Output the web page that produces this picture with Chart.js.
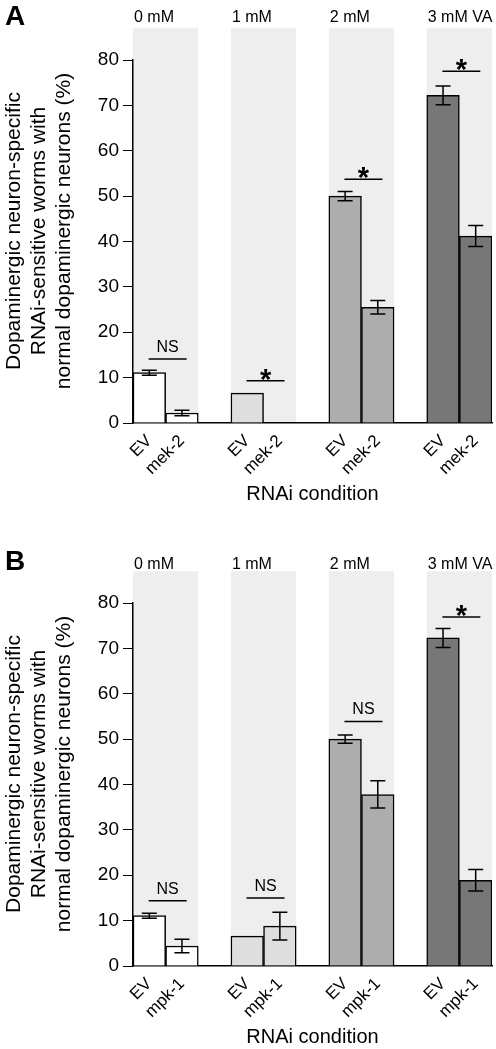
<!DOCTYPE html>
<html>
<head>
<meta charset="utf-8">
<script src="https://cdn.jsdelivr.net/npm/chart.js@4.4.1/dist/chart.umd.min.js"></script>
<style>
  body { margin: 0; background: #fff; }
  canvas { position: absolute; left: 0; }
</style>
</head>
<body>
<canvas id="chartA" width="496" height="510" style="top:0px"></canvas>
<canvas id="chartB" width="496" height="510" style="top:543px"></canvas>
<script>
// dose groups and bar fill per group
const doses = ['0 mM', '1 mM', '2 mM', '3 mM VA']
const groupColors = ['#ffffff', '#dedede', '#adadad', '#777777']
const yTitle = ['Dopaminergic neuron-specific', 'RNAi-sensitive worms with', 'normal dopaminergic neurons (%)']

// panel A: EV vs mek-2
const evA = [11.1, 6.6, 50.0, 72.2]
const evErrA = [0.55, 0, 1.0, 2.05]
const mekA = [2.2, 0, 25.5, 41.2]
const mekErrA = [0.6, 0, 1.5, 2.3]
const sigA = ['NS', '*', '*', '*']
const sigLineA = [14.1, 9.3, 53.7, 77.5]

// panel B: EV vs mpk-1
const evB = [11.1, 6.6, 50.0, 72.3]
const evErrB = [0.55, 0, 0.9, 2.1]
const mpkB = [4.4, 8.8, 37.8, 18.9]
const mpkErrB = [1.5, 3.05, 3.0, 2.35]
const sigB = ['NS', 'NS', 'NS', '*']
const sigLineB = [14.4, 15.0, 53.9, 76.9]

const bandTop = 87

const fonte = "'Liberation Sans', Arial, Helvetica, sans-serif"
Chart.defaults.font.family = fonte
Chart.defaults.color = '#000'

const decor = {
    id: 'decor',
    beforeDraw(chart, args, o) {
        const { ctx, scales: { x, y } } = chart
        const half = (x.getPixelForValue(1) - x.getPixelForValue(0)) / 2
        ctx.save()
        ctx.fillStyle = '#eeeeee'
        o.pairs.forEach(([a, b]) => {
            const l = x.getPixelForValue(a) - half
            const r = x.getPixelForValue(b) + half
            const t = y.getPixelForValue(bandTop)
            ctx.fillRect(l, t, r - l, y.getPixelForValue(0) - t)
        })
        ctx.restore()
    },
    afterDatasetsDraw(chart, args, o) {
        const { ctx, scales: { y } } = chart
        const meta = chart.getDatasetMeta(0)
        ctx.save()
        ctx.strokeStyle = '#000'
        ctx.lineWidth = 1.5
        o.errors.forEach((e, i) => {
            if (!e) return
            const v = chart.data.datasets[0].data[i]
            const cx = meta.data[i].x
            const t = y.getPixelForValue(v + e)
            const b = y.getPixelForValue(v - e)
            ctx.beginPath()
            ctx.moveTo(cx, t); ctx.lineTo(cx, b)
            ctx.moveTo(cx - 7.5, t); ctx.lineTo(cx + 7.5, t)
            ctx.moveTo(cx - 7.5, b); ctx.lineTo(cx + 7.5, b)
            ctx.stroke()
        })
        ctx.restore()
    },
    afterDraw(chart, args, o) {
        const { ctx, scales: { x, y } } = chart
        const half = (x.getPixelForValue(1) - x.getPixelForValue(0)) / 2
        ctx.save()
        ctx.fillStyle = '#000'
        ctx.strokeStyle = '#000'
        ctx.lineWidth = 1.5
        o.pairs.forEach(([a, b], g) => {
            // linha de significancia + rotulo
            const mid = (x.getPixelForValue(a) + x.getPixelForValue(b)) / 2 + 2
            const ly = y.getPixelForValue(o.sigLine[g])
            ctx.beginPath()
            ctx.moveTo(mid - 19, ly); ctx.lineTo(mid + 19, ly)
            ctx.stroke()
            ctx.textAlign = 'center'
            ctx.textBaseline = 'alphabetic'
            if (o.sig[g] === '*') {
                ctx.font = 'bold 29px ' + fonte
                ctx.fillText('*', mid, ly + 8)
            } else {
                ctx.font = '16px ' + fonte
                ctx.fillText(o.sig[g], mid, ly - 7)
            }
            // dose acima da faixa
            ctx.textAlign = 'left'
            ctx.textBaseline = 'middle'
            ctx.font = '16px ' + fonte
            ctx.fillText(doses[g], x.getPixelForValue(a) - half + 1, o.titleY)
        })
        // letra do painel
        ctx.textAlign = 'left'
        ctx.textBaseline = 'alphabetic'
        ctx.font = 'bold 28px ' + fonte
        ctx.fillText(o.letter, 5, o.letterY)
        // titulo do eixo y
        ctx.font = '21px ' + fonte
        ctx.textAlign = 'center'
        ctx.textBaseline = 'middle'
        yTitle.forEach((line, i) => {
            ctx.save()
            ctx.translate(14 + i * 25, 231)
            ctx.rotate(-Math.PI / 2)
            ctx.fillText(line, 0, 0)
            ctx.restore()
        })
        ctx.restore()
    }
}

function painel(id, letter, gene, ev, evErr, kd, kdErr, sig, sigLine, titleY, letterY) {
    const labels = [], valores = [], cores = [], erros = [], pairs = []
    doses.forEach((d, g) => {
        pairs.push([labels.length, labels.length + 1])
        labels.push('EV', gene)
        valores.push(ev[g], kd[g])
        erros.push(evErr[g], kdErr[g])
        cores.push(groupColors[g], groupColors[g])
        if (g < doses.length - 1) {
            labels.push('')
            valores.push(null)
            erros.push(0)
            cores.push('#fff')
        }
    })

    new Chart(document.getElementById(id), {
        type: 'bar',
        data: {
            labels: labels,
            datasets: [{
                data: valores,
                backgroundColor: cores,
                borderColor: '#000',
                borderWidth: 1.5,
                barPercentage: 1,
                categoryPercentage: 1
            }]
        },
        options: {
            responsive: false,
            animation: false,
            layout: { padding: { top: 60, right: 4, left: 0, bottom: 0 } },
            plugins: {
                legend: { display: false },
                tooltip: { enabled: false },
                decor: { pairs, errors: erros, sig, sigLine, letter, titleY, letterY }
            },
            scales: {
                x: {
                    grid: { display: false },
                    border: { color: '#000', width: 1.5 },
                    ticks: { color: '#000', font: { size: 17 }, maxRotation: 45, minRotation: 45, autoSkip: false, padding: 0 },
                    title: { display: true, text: 'RNAi condition', color: '#000', font: { size: 20 }, padding: { top: 0, bottom: 4 } },
                    afterFit: s => { s.height = 87 }
                },
                y: {
                    min: 0,
                    max: 80,
                    ticks: { stepSize: 10, color: '#000', font: { size: 19 }, padding: 4 },
                    grid: { drawOnChartArea: false, tickLength: 10, color: '#000', lineWidth: 1 },
                    border: { color: '#000', width: 1.5 },
                    afterFit: s => { s.width = 133 }
                }
            }
        },
        plugins: [decor]
    })
}

painel('chartA', 'A', 'mek-2', evA, evErrA, mekA, mekErrA, sigA, sigLineA, 18, 25)
painel('chartB', 'B', 'mpk-1', evB, evErrB, mpkB, mpkErrB, sigB, sigLineB, 22, 27)
</script>
</body>
</html>
